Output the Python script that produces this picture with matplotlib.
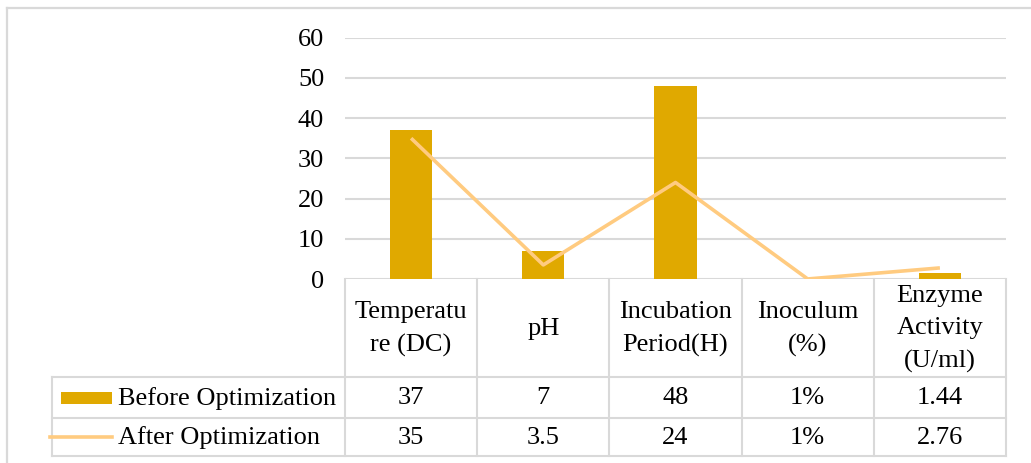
import matplotlib
matplotlib.use("Agg")
import matplotlib.pyplot as plt
import matplotlib.transforms as mtransforms
from matplotlib.lines import Line2D
from matplotlib.patches import Rectangle

# ---- data ----
categories = ["Temperatu\nre (DC)", "pH", "Incubation\nPeriod(H)", "Inoculum\n(%)",
              "Enzyme\nActivity\n(U/ml)"]
before_values = [37, 7, 48, 0.01, 1.44]
after_values = [35, 3.5, 24, 0.01, 2.76]
before_labels = ["37", "7", "48", "1%", "1.44"]
after_labels = ["35", "3.5", "24", "1%", "2.76"]
series_names = ["Before Optimization", "After Optimization"]
y_ticks = [0, 10, 20, 30, 40, 50, 60]

BAR_COLOR = "#E0A900"
LINE_COLOR = "#FFCB80"
GRID_COLOR = "#D9D9D9"
FONT = "Liberation Serif"
FS = 19

W, H = 1031, 463
fig = plt.figure(figsize=(W / 100, H / 100), dpi=100)
plt.rcParams["font.family"] = [FONT, "DejaVu Serif"]

# pixel transform: origin top-left
px = mtransforms.Affine2D().scale(1 / W, -1 / H).translate(0, 1) + fig.transFigure

# plot area geometry (pixels)
left, right, top, bottom = 345, 1006, 37.7, 279
ax = fig.add_axes([left / W, (H - bottom) / H, (right - left) / W, (bottom - top) / H])
n = len(categories)
x = list(range(n))
ax.set_xlim(-0.5, n - 0.5)
ax.set_ylim(0, 60)
ax.set_yticks(y_ticks)
ax.set_yticklabels([str(t) for t in y_ticks], fontsize=FS, family=FONT)
ax.set_xticks([])
ax.tick_params(axis="y", length=0, pad=15)
for s in ax.spines.values():
    s.set_visible(False)
ax.yaxis.grid(True, color=GRID_COLOR, lw=1.5)
ax.set_axisbelow(True)

ax.bar(x, before_values, width=0.32, color=BAR_COLOR, zorder=2)
ax.plot(x, after_values, color=LINE_COLOR, lw=2.6, zorder=3, solid_capstyle="butt")

# ---- data table below the axis ----
bt = mtransforms.blended_transform_factory(ax.transData, px)
row_header = (279, 377)
row1 = (377, 418)
row2 = (418, 456)
leg_left = 52

def hline(x0, x1, y, trans=px):
    fig.add_artist(Line2D([x0, x1], [y, y], transform=trans, color=GRID_COLOR, lw=1.5))

def vline(xv, y0, y1, trans=px):
    fig.add_artist(Line2D([xv, xv], [y0, y1], transform=trans, color=GRID_COLOR, lw=1.5))

# category boundaries
for b in [i - 0.5 for i in range(n + 1)]:
    vline(b, row_header[0], row2[1], trans=bt)
hline(leg_left, right, row1[0])
hline(leg_left, right, row2[0])
hline(leg_left, right, row2[1])
vline(leg_left, row1[0], row2[1])

# header labels and values
for i, cat in enumerate(categories):
    fig.text(i, sum(row_header) / 2 + 1, cat, transform=bt, ha="center", va="center",
             fontsize=FS, family=FONT, linespacing=1.6)
    fig.text(i, sum(row1) / 2 + 1, before_labels[i], transform=bt, ha="center",
             va="center", fontsize=FS, family=FONT)
    fig.text(i, sum(row2) / 2 + 1, after_labels[i], transform=bt, ha="center",
             va="center", fontsize=FS, family=FONT)

# legend keys in the first column
fig.add_artist(Rectangle((61, 392), 51, 12, transform=px, color=BAR_COLOR, lw=0))
fig.add_artist(Line2D([50, 112], [436.5, 436.5], transform=px, color=LINE_COLOR, lw=2.6))
fig.text(118, sum(row1) / 2 + 1, series_names[0], transform=px, ha="left", va="center",
         fontsize=FS, family=FONT)
fig.text(118, sum(row2) / 2 + 1, series_names[1], transform=px, ha="left", va="center",
         fontsize=FS, family=FONT)

# chart area frame (top and left edges)
fig.add_artist(Line2D([7, W], [8, 8], transform=px, color=GRID_COLOR, lw=1.6))
fig.add_artist(Line2D([7, 7], [8, H], transform=px, color=GRID_COLOR, lw=1.6))

fig.savefig("out.png", dpi=100, facecolor="white")
